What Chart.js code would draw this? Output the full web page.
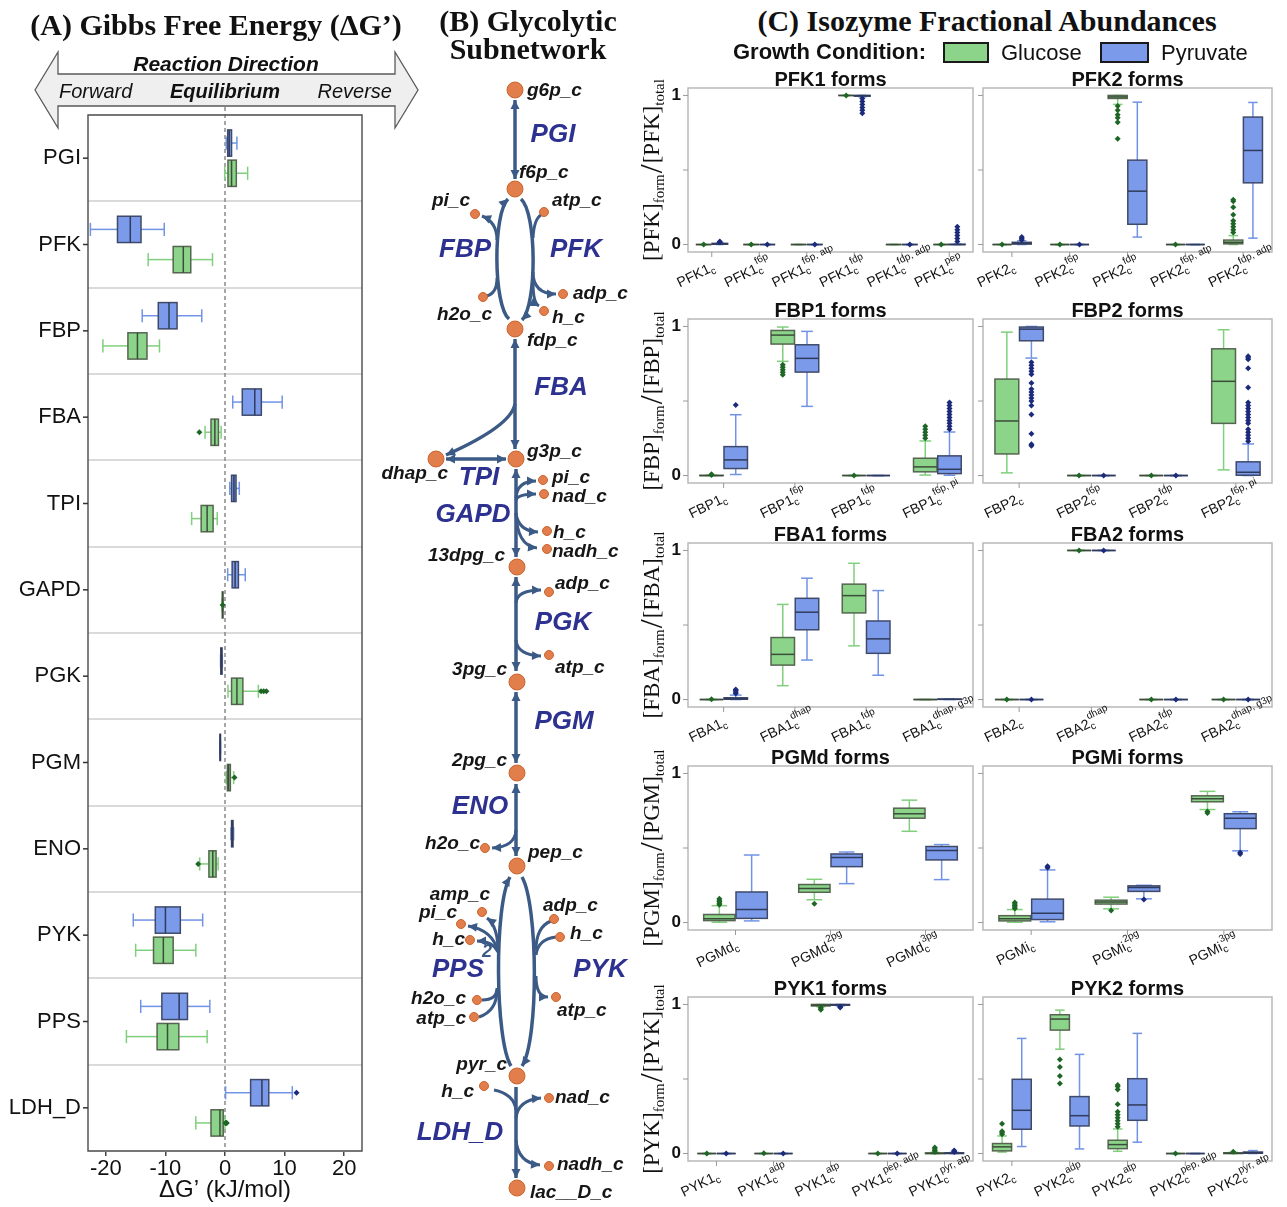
<!DOCTYPE html>
<html>
<head>
<meta charset="utf-8">
<title>Glycolysis: Gibbs free energy, subnetwork and isozyme abundances</title>
<script src="https://cdn.jsdelivr.net/npm/chart.js@4.4.1/dist/chart.umd.min.js"></script>
<style>
  html, body { margin:0; padding:0; background:#fff; }
  body { position:relative; width:1287px; height:1207px; overflow:hidden;
         font-family:"Liberation Sans", Arial, sans-serif; color:#111; }
  canvas { position:absolute; }
  .txt { position:absolute; white-space:nowrap; }
  .ylab { position:absolute; white-space:nowrap; font-family:"Liberation Serif","Times New Roman",serif;
          font-size:23px; line-height:23px; transform:translate(-50%,-50%) rotate(-90deg); color:#111; }
  .ylab sub { font-size:15px; vertical-align:-5px; }
  .ylab .sl { font-size:32px; vertical-align:-3px; padding:0 1px; }
  .swatch { position:absolute; box-sizing:border-box; border:2px solid #1a1a1a; }
  #dirArrow { position:absolute; left:0; top:0; }
</style>
</head>
<body>
<svg id="dirArrow" width="430" height="140">
  <polygon points="35,90 58,52 58,74 395,74 395,52 418,90 395,128 395,106 58,106 58,128"
           fill="#efefef" stroke="#5a5a5a" stroke-width="1.3"/>
</svg>
<script>
// ================= (A) Gibbs free energy of each reaction =================
const reactions = ['PGI','PFK','FBP','FBA','TPI','GAPD','PGK','PGM','ENO','PYK','PPS','LDH_D'];
// [min, q1, median, q3, max] in kJ/mol
const dgPyruvate = [
  [0.2, 0.45, 0.7, 1.1, 2.0],
  [-22.6, -18.05, -15.9, -14.1, -10.2],
  [-13.9, -11.2, -9.4, -8.05, -3.9],
  [1.3, 2.9, 5.0, 6.1, 9.6],
  [0.8, 1.1, 1.5, 1.85, 2.4],
  [0.45, 1.2, 1.7, 2.25, 3.4],
  [-0.75, -0.7, -0.6, -0.5, -0.45],
  [-0.85, -0.85, -0.8, -0.75, -0.75],
  [1.0, 1.1, 1.2, 1.35, 1.45],
  [-15.4, -11.7, -10.0, -7.5, -3.75],
  [-14.15, -10.6, -7.7, -6.3, -2.55],
  [0.1, 4.3, 6.2, 7.35, 11.3]
];
const dgGlucose = [
  [-0.05, 0.5, 1.1, 1.9, 3.8],
  [-12.9, -8.7, -7.0, -5.75, -2.1],
  [-20.5, -16.3, -14.7, -13.1, -11.0],
  [-3.35, -2.35, -1.7, -1.1, -0.65],
  [-5.6, -4.0, -3.0, -2.0, -1.3],
  [-0.5, -0.45, -0.4, -0.35, -0.3],
  [0.5, 1.1, 2.0, 3.0, 5.6],
  [0.2, 0.4, 0.6, 0.9, 1.45],
  [-4.25, -2.7, -2.05, -1.5, -1.15],
  [-15.0, -12.0, -10.35, -8.7, -4.9],
  [-16.55, -11.4, -9.65, -7.75, -3.0],
  [-4.9, -2.35, -0.85, -0.3, 0.0]
];
const dgPyruvateOut = [[],[],[],[],[],[],[],[],[],[],[],[12.0]];
const dgGlucoseOut  = [[],[],[],[-4.3],[],[-0.4],[6.05,6.5,6.95],[1.6],[-4.5],[],[],[0.1,0.2,0.3]];
const dgTicks = [-20, -10, 0, 10, 20];

// ================= (B) glycolytic subnetwork layout =================
const metNames = ['g6p_c','f6p_c','fdp_c','g3p_c','dhap_c','13dpg_c','3pg_c','2pg_c','pep_c','pyr_c','lac__D_c',
  'pi_c','atp_c','h2o_c','adp_c','h_c','pi_c','nad_c','h_c','nadh_c','adp_c','atp_c','h2o_c',
  'amp_c','pi_c','h_c','h2o_c','atp_c','adp_c','h_c','atp_c','h_c','nad_c','nadh_c'];
const metX = [515,515,515,516,436,517,517,517,517,517,517,
  475,544,483,563,544,543,544,547,547,549,549,485,
  482,461,470,477,474,554,560,556,484,549,549];
const metY = [90,189,329,459,459,567,682,773,866,1076,1188,
  214,212,297,294,311,480,494,531,549,592,655,848,
  912,924,940,1000,1017,919,937,997,1086,1098,1166];
const metMain = [1,1,1,1,1,1,1,1,1,1,1, 0,0,0,0,0,0,0,0,0,0,0,0, 0,0,0,0,0,0,0,0,0,0,0];
const metLabelX = [527,519,527,527,448,505,507,507,528,507,530,
  470,552,492,573,552,552,552,553,552,555,555,480,
  490,457,465,466,466,543,570,557,474,555,557];
const metLabelY = [91,173,341,452,474,556,670,761,853,1065,1193,
  201,201,315,294,318,478,497,533,552,584,668,844,
  895,913,940,999,1019,906,934,1011,1092,1098,1165];
const metLabelAlign = ['left','left','left','left','right','right','right','right','left','right','left',
  'right','left','right','left','left','left','left','left','left','left','left','right',
  'right','right','right','right','right','left','left','left','right','left','left'];
const rxnNames = ['PGI','FBP','PFK','FBA','TPI','GAPD','PGK','PGM','ENO','PPS','PYK','LDH_D'];
const rxnX = [553,465,576,561,479,473,563,564,480,458,600,460];
const rxnY = [135,250,250,388,478,515,623,722,807,970,970,1133];
// reaction arrows: p = path (2 pts line, 3 pts quadratic, 4 pts cubic), s/e = arrowheads
const rxnEdges = [
  {p:[[515,100],[515,179]], s:1, e:1, main:1},
  {p:[[521,199],[537,213],[537,305],[522,320]], e:1, main:1},
  {p:[[509,319],[493,305],[493,213],[508,199]], e:1, main:1},
  {p:[[541,215],[534,219],[533,238]]},
  {p:[[533,272],[533,294],[556,294]], e:1},
  {p:[[533,282],[533,303],[539,306]], e:1},
  {p:[[497,240],[497,222],[482,216]], e:1},
  {p:[[486,296],[497,294],[497,278]]},
  {p:[[515,339],[515,449]], s:1, e:1, main:1},
  {p:[[515,404],[511,426],[446,455]], e:1, main:1},
  {p:[[446,459],[506,459]], s:1, e:1, main:1},
  {p:[[516,469],[516,557]], s:1, e:1, main:1},
  {p:[[516,498],[517,481],[536,481]], e:1},
  {p:[[516,500],[518,494],[536,494]], e:1},
  {p:[[516,513],[518,531],[538,532]], e:1},
  {p:[[516,513],[517,546],[537,548]], e:1},
  {p:[[516,577],[516,671]], s:1, e:1, main:1},
  {p:[[516,603],[517,590],[541,590]], e:1},
  {p:[[516,640],[517,655],[541,656]], e:1},
  {p:[[516,692],[516,763]], s:1, e:1, main:1},
  {p:[[516,784],[516,856]], s:1, e:1, main:1},
  {p:[[516,830],[515,847],[492,848]], e:1},
  {p:[[522,877],[538,905],[539,1040],[522,1066]], e:1, main:1},
  {p:[[511,1066],[495,1040],[494,905],[510,877]], e:1, main:1},
  {p:[[551,921],[536,927],[536,950]]},
  {p:[[556,937],[538,939],[536,955]]},
  {p:[[536,976],[536,997],[548,997]], e:1},
  {p:[[498,952],[498,926],[487,918]], e:1},
  {p:[[498,952],[493,930],[468,926]], e:1},
  {p:[[498,952],[493,941],[477,941]], e:1},
  {p:[[482,1000],[497,1000],[497,988]]},
  {p:[[479,1017],[497,1011],[497,990]]},
  {p:[[516,1087],[516,1178]], e:1, main:1},
  {p:[[494,1090],[514,1094],[516,1110]]},
  {p:[[516,1118],[518,1100],[541,1098]], e:1},
  {p:[[516,1140],[518,1163],[540,1165]], e:1}
];

// ================= (C) isozyme fractional abundances =================
const Z = [0,0,0,0,0], ONE = [1,1,1,1,1];
const pfk1Sups = ['', 'f6p', 'f6p, atp', 'fdp', 'fdp, adp', 'pep'];
const pfk1Glucose = [Z, Z, Z, ONE, Z, Z];
const pfk1Pyruvate = [[0,0.002,0.004,0.008,0.012], Z, Z, [0.99,0.995,0.999,1,1], Z, [0,0,0,0.002,0.004]];
const pfk1GlucoseOut = [[0.001],[0.001],[],[0.999],[],[0.001]];
const pfk1PyruvateOut = [[0.015,0.02],[0.001],[0.001],[0.88,0.9,0.92,0.94,0.96,0.98],[0.001],[0.02,0.04,0.06,0.08,0.1,0.12]];

const pfk2Sups = ['', 'f6p', 'fdp', 'f6p, atp', 'fdp, adp'];
const pfk2Glucose = [Z, Z, [0.94,0.98,0.99,1,1], Z, [0,0.005,0.015,0.03,0.06]];
const pfk2Pyruvate = [[0,0.003,0.008,0.015,0.025], Z, [0.05,0.136,0.358,0.566,0.955], Z, [0.043,0.414,0.631,0.855,0.953]];
const pfk2GlucoseOut = [[0.001],[0.001],[0.93,0.9,0.87,0.85,0.82,0.71],[0.001],[0.08,0.1,0.12,0.14,0.16,0.2,0.25,0.29,0.3]];
const pfk2PyruvateOut = [[0.03,0.04,0.05],[0.001],[],[],[]];

const fbp1Sups = ['', 'f6p', 'fdp', 'f6p, pi'];
const fbp1Glucose = [[0,0,0,0.001,0.002], [0.766,0.882,0.942,0.973,0.996], Z, [0.003,0.025,0.058,0.116,0.232]];
const fbp1Pyruvate = [[0.007,0.047,0.105,0.194,0.408], [0.464,0.694,0.786,0.877,0.967], Z, [0.002,0.013,0.042,0.132,0.292]];
const fbp1GlucoseOut = [[0.004,0.008],[0.743,0.726,0.71,0.693,0.676],[0.001],[0.25,0.27,0.29,0.31,0.33]];
const fbp1PyruvateOut = [[0.473],[],[],[0.31,0.33,0.35,0.37,0.39,0.41,0.43,0.45,0.47,0.49]];

const fbp2Sups = ['', 'f6p', 'fdp', 'f6p, pi'];
const fbp2Glucose = [[0.018,0.145,0.366,0.647,0.962], Z, Z, [0.038,0.35,0.632,0.85,0.978]];
const fbp2Pyruvate = [[0.788,0.904,0.982,0.996,1], Z, Z, [0,0.002,0.022,0.092,0.212]];
const fbp2GlucoseOut = [[],[0.001],[0.001],[]];
const fbp2PyruvateOut = [[0.76,0.74,0.72,0.70,0.68,0.62,0.58,0.56,0.54,0.52,0.50,0.47,0.41,0.28,0.21,0.20],[0.001],[0.001],
  [0.23,0.25,0.27,0.29,0.31,0.35,0.37,0.39,0.41,0.43,0.45,0.47,0.49,0.59,0.72,0.78,0.79,0.80]];

const fba1Sups = ['', 'dhap', 'fdp', 'dhap, g3p'];
const fba1Glucose = [Z, [0.093,0.231,0.303,0.416,0.638], [0.36,0.581,0.697,0.774,0.914], Z];
const fba1Pyruvate = [[0,0.002,0.005,0.012,0.03], [0.265,0.468,0.586,0.679,0.814], [0.163,0.31,0.407,0.527,0.731], [0,0.001,0.002,0.003,0.004]];
const fba1GlucoseOut = [[0.002],[],[],[]];
const fba1PyruvateOut = [[0.04,0.05,0.06,0.068],[],[],[]];

const fba2Sups = ['', 'dhap', 'fdp', 'dhap, g3p'];
const fba2Glucose = [Z, ONE, Z, Z];
const fba2Pyruvate = [Z, ONE, Z, Z];
const fba2GlucoseOut = [[0.001],[0.999],[0.001],[0.001]];
const fba2PyruvateOut = [[0.001],[0.999],[0.001],[0.001]];

const pgmdSups = ['', '2pg', '3pg'];
const pgmdGlucose = [[0.002,0.013,0.026,0.054,0.113], [0.153,0.203,0.229,0.255,0.29], [0.612,0.70,0.73,0.767,0.821]];
const pgmdPyruvate = [[0.011,0.028,0.087,0.205,0.453], [0.261,0.375,0.436,0.46,0.473], [0.288,0.42,0.484,0.51,0.523]];
const pgmdGlucoseOut = [[0.12,0.13,0.14,0.15,0.16],[0.126],[]];
const pgmdPyruvateOut = [[],[],[]];

const pgmiSups = ['', '2pg', '3pg'];
const pgmiGlucose = [[0.002,0.011,0.025,0.046,0.087], [0.092,0.124,0.137,0.15,0.17], [0.758,0.81,0.83,0.85,0.88]];
const pgmiPyruvate = [[0.005,0.02,0.063,0.157,0.353], [0.159,0.209,0.235,0.246,0.25], [0.481,0.63,0.70,0.73,0.743]];
const pgmiGlucoseOut = [[0.095,0.105,0.115,0.125,0.135],[0.08],[0.745,0.735]];
const pgmiPyruvateOut = [[0.368,0.377],[0.155],[0.47,0.46]];

const pyk1Sups = ['', 'adp', 'atp', 'pep, adp', 'pyr, atp'];
const pyk1Glucose = [Z, Z, [0.985,0.99,0.995,1,1], Z, [0,0,0.001,0.004,0.008]];
const pyk1Pyruvate = [Z, Z, [0.99,0.995,0.998,1,1], Z, [0,0,0.002,0.005,0.008]];
const pyk1GlucoseOut = [[0.001],[0.002],[0.98,0.97,0.965],[0.001],[0.01,0.02,0.03,0.04]];
const pyk1PyruvateOut = [[0.001],[0.001],[0.985,0.98],[0.001],[0.01,0.015,0.02]];

const pyk2Sups = ['', 'adp', 'atp', 'pep, adp', 'pyr, atp'];
const pyk2Glucose = [[0.01,0.018,0.045,0.067,0.118], [0.70,0.828,0.902,0.931,0.962], [0.015,0.033,0.06,0.089,0.165], Z, [0,0,0.002,0.005,0.008]];
const pyk2Pyruvate = [[0.047,0.163,0.29,0.498,0.772], [0.031,0.185,0.254,0.382,0.665], [0.076,0.223,0.326,0.502,0.806], Z, [0,0.002,0.006,0.01,0.02]];
const pyk2GlucoseOut = [[0.13,0.14,0.15,0.2],[0.63,0.58,0.52,0.47],[0.18,0.2,0.22,0.24,0.26,0.28,0.33,0.43,0.45,0.46],[0.001],[0.012]];
const pyk2PyruvateOut = [[],[],[],[],[]];

const enzymeRows = ['PFK','FBP','FBA','PGM','PYK'];
const fractionTicks = [0, 0.5, 1];

// ================= styling =================
const SANS = '"Liberation Sans", Arial, sans-serif';
const SERIF = '"Liberation Serif", "Times New Roman", serif';
Chart.defaults.font.family = SANS;
const GREEN = {fill:'#8bd48a', border:'#55654f', whisker:'#80cf7c', median:'#3b4c3a', outlier:'#1e6626'};
const BLUE  = {fill:'#7b9bea', border:'#3f4a6b', whisker:'#7193e6', median:'#2f3a5c', outlier:'#1b2a7a'};
const EDGE = '#3b5a86';

function addText(html, x, y, o) {
  const d = document.createElement('div');
  d.className = 'txt';
  d.innerHTML = html;
  d.style.font = `${o.style||'normal'} ${o.weight||'normal'} ${o.size}px ${o.family||SANS}`;
  d.style.lineHeight = o.size + 'px';
  d.style.left = x + 'px';
  d.style.top = (y - o.size/2) + 'px';
  d.style.color = o.color || '#111';
  const tx = o.align === 'center' ? '-50%' : o.align === 'right' ? '-100%' : '0';
  d.style.transform = `translateX(${tx})`;
  document.body.appendChild(d);
  return d;
}
function makeCanvas(left, top, w, h) {
  const c = document.createElement('canvas');
  c.width = w; c.height = h;
  c.style.left = left + 'px'; c.style.top = top + 'px';
  c.style.width = w + 'px'; c.style.height = h + 'px';
  document.body.insertBefore(c, document.getElementById('dirArrow'));
  return c;
}
function diamond(ctx, x, y, r) {
  ctx.beginPath();
  ctx.moveTo(x, y - r); ctx.lineTo(x + r, y); ctx.lineTo(x, y + r); ctx.lineTo(x - r, y);
  ctx.closePath(); ctx.fill();
}

// whiskers, box outline, median and outliers drawn on top of the floating [q1, q3] bars
const boxPlotPlugin = {
  id: 'boxPlot',
  afterDatasetsDraw(chart) {
    const ctx = chart.ctx;
    const horiz = chart.options.indexAxis === 'y';
    const vs = horiz ? chart.scales.x : chart.scales.y;
    chart.data.datasets.forEach((ds, di) => {
      const meta = chart.getDatasetMeta(di);
      const st = ds.boxStyle;
      meta.data.forEach((el, i) => {
        const s = ds.stats[i];
        const c = horiz ? el.y : el.x;
        const w = horiz ? el.height : el.width;
        const h = w / 2;
        const P = s.map(v => vs.getPixelForValue(v));
        const seg = (a1, b1, a2, b2) => {
          ctx.beginPath();
          if (horiz) { ctx.moveTo(a1, b1); ctx.lineTo(a2, b2); }
          else { ctx.moveTo(b1, a1); ctx.lineTo(b2, a2); }
          ctx.stroke();
        };
        ctx.save();
        ctx.lineWidth = 1.5; ctx.strokeStyle = st.whisker;
        seg(P[0], c, P[1], c); seg(P[3], c, P[4], c);
        seg(P[0], c - h/2, P[0], c + h/2); seg(P[4], c - h/2, P[4], c + h/2);
        ctx.strokeStyle = st.border; ctx.lineWidth = 1.5;
        if (horiz) ctx.strokeRect(P[1], c - h, P[3] - P[1], w);
        else ctx.strokeRect(c - h, P[3], w, P[1] - P[3]);
        ctx.strokeStyle = st.median; ctx.lineWidth = 1.5;
        seg(P[2], c - h, P[2], c + h);
        ctx.fillStyle = st.outlier;
        (ds.outliers[i] || []).forEach(v => {
          const p = vs.getPixelForValue(v);
          diamond(ctx, horiz ? p : c, horiz ? c : p, 3);
        });
        ctx.restore();
      });
    });
  }
};
function boxDataset(label, stats, outliers, style, catPct, barPct) {
  return {
    label, stats, outliers, boxStyle: style,
    data: stats.map(s => [s[1], s[3]]),
    backgroundColor: style.fill, borderWidth: 0,
    categoryPercentage: catPct, barPercentage: barPct
  };
}

// ================= panel titles =================
addText('(A) Gibbs Free Energy (ΔG’)', 216, 25, {size:30, weight:'bold', family:SERIF, align:'center'});
addText('(B) Glycolytic', 528, 21, {size:30, weight:'bold', family:SERIF, align:'center'});
addText('Subnetwork', 528, 49, {size:30, weight:'bold', family:SERIF, align:'center'});
addText('(C) Isozyme Fractional Abundances', 987, 21, {size:30, weight:'bold', family:SERIF, align:'center'});

// ================= (A) chart =================
const cvA = makeCanvas(0, 0, 380, 1207);
const panelAPlugin = {
  id: 'panelA',
  beforeDatasetsDraw(chart) {
    const {ctx, chartArea:a, scales:{x:xs}} = chart;
    const x0 = xs.getPixelForValue(0);
    ctx.save();
    ctx.strokeStyle = '#8a8a8a'; ctx.lineWidth = 1.5; ctx.setLineDash([4, 3]);
    ctx.beginPath(); ctx.moveTo(x0, 100); ctx.lineTo(x0, a.bottom); ctx.stroke();
    ctx.restore();
  },
  afterDraw(chart) {
    const {ctx, chartArea:a, scales:{y:ys}} = chart;
    ctx.save();
    ctx.strokeStyle = '#555'; ctx.lineWidth = 1.5;
    ctx.strokeRect(a.left, a.top, a.right - a.left, a.bottom - a.top);
    ctx.strokeStyle = '#333';
    reactions.forEach((_, i) => {
      const y = ys.getPixelForValue(i);
      ctx.beginPath(); ctx.moveTo(a.left - 5, y); ctx.lineTo(a.left, y); ctx.stroke();
    });
    ctx.fillStyle = '#111'; ctx.font = `24px ${SANS}`;
    ctx.textAlign = 'center'; ctx.textBaseline = 'middle';
    ctx.fillText('ΔG’ (kJ/mol)', (a.left + a.right) / 2, a.bottom + 39);
    ctx.restore();
  }
};
new Chart(cvA, {
  type: 'bar',
  data: {
    labels: reactions,
    datasets: [
      boxDataset('Pyruvate', dgPyruvate, dgPyruvateOut, BLUE, 0.70, 0.87),
      boxDataset('Glucose', dgGlucose, dgGlucoseOut, GREEN, 0.70, 0.87)
    ]
  },
  options: {
    indexAxis: 'y', responsive: false, animation: false, devicePixelRatio: 1, events: [],
    layout: {padding: {top: 115, left: 0, right: 18, bottom: 0}, autoPadding: false},
    scales: {
      x: {
        min: -23, max: 23,
        afterBuildTicks: s => { s.ticks = dgTicks.map(v => ({value: v})); },
        ticks: {font: {size: 22}, color: '#111', padding: 0, maxRotation: 0, autoSkip: false},
        grid: {drawOnChartArea: false, drawTicks: true, tickLength: 5, color: '#444', lineWidth: 1.5},
        border: {display: false},
        afterFit: s => { s.height = 56; }
      },
      y: {
        ticks: {font: {size: 22}, color: '#111', padding: 7, autoSkip: false},
        grid: {offset: true, drawTicks: false, color: '#dadada', lineWidth: 2},
        border: {display: false},
        afterFit: s => { s.width = 88; }
      }
    },
    plugins: {legend: {display: false}, tooltip: {enabled: false}}
  },
  plugins: [panelAPlugin, boxPlotPlugin]
});

// reaction-direction banner text
addText('<i><b>Reaction Direction</b></i>', 226, 63, {size:21, align:'center'});
addText('<i>Forward</i>', 59, 91, {size:20});
addText('<i><b>Equilibrium</b></i>', 225, 91, {size:20, align:'center'});
addText('<i>Reverse</i>', 392, 91, {size:20, align:'right'});

// ================= (B) network chart =================
const cvB = makeCanvas(375, 60, 265, 1147);
function arrowHead(ctx, from, tip) {
  const ang = Math.atan2(tip[1] - from[1], tip[0] - from[0]);
  const L = 9, W = 4.5;
  ctx.beginPath();
  ctx.moveTo(tip[0], tip[1]);
  ctx.lineTo(tip[0] - L*Math.cos(ang) + W*Math.sin(ang), tip[1] - L*Math.sin(ang) - W*Math.cos(ang));
  ctx.lineTo(tip[0] - L*Math.cos(ang) - W*Math.sin(ang), tip[1] - L*Math.sin(ang) + W*Math.cos(ang));
  ctx.closePath(); ctx.fill();
}
const networkPlugin = {
  id: 'network',
  beforeDatasetsDraw(chart) {
    const {ctx, scales:{x:xs, y:ys}} = chart;
    ctx.save();
    ctx.strokeStyle = EDGE; ctx.fillStyle = EDGE; ctx.lineCap = 'butt';
    rxnEdges.forEach(e => {
      const p = e.p.map(q => [xs.getPixelForValue(q[0]), ys.getPixelForValue(q[1])]);
      ctx.lineWidth = e.main ? 3.5 : 3;
      ctx.beginPath(); ctx.moveTo(p[0][0], p[0][1]);
      if (p.length === 2) ctx.lineTo(p[1][0], p[1][1]);
      else if (p.length === 3) ctx.quadraticCurveTo(p[1][0], p[1][1], p[2][0], p[2][1]);
      else ctx.bezierCurveTo(p[1][0], p[1][1], p[2][0], p[2][1], p[3][0], p[3][1]);
      ctx.stroke();
      if (e.e) arrowHead(ctx, p[p.length - 2], p[p.length - 1]);
      if (e.s) arrowHead(ctx, p[1], p[0]);
    });
    ctx.restore();
  },
  afterDatasetsDraw(chart) {
    const {ctx, scales:{x:xs, y:ys}} = chart;
    ctx.save();
    ctx.textBaseline = 'middle';
    ctx.fillStyle = '#161616'; ctx.font = `italic bold 19px ${SANS}`;
    metNames.forEach((n, i) => {
      ctx.textAlign = metLabelAlign[i];
      ctx.fillText(n, xs.getPixelForValue(metLabelX[i]), ys.getPixelForValue(metLabelY[i]));
    });
    ctx.fillStyle = '#2d3190'; ctx.font = `italic bold 26px ${SANS}`; ctx.textAlign = 'center';
    rxnNames.forEach((n, i) => ctx.fillText(n, xs.getPixelForValue(rxnX[i]), ys.getPixelForValue(rxnY[i])));
    ctx.fillStyle = EDGE; ctx.font = `italic bold 18px ${SANS}`;
    ctx.fillText('2', xs.getPixelForValue(487), ys.getPixelForValue(952));
    ctx.restore();
  }
};
new Chart(cvB, {
  type: 'scatter',
  data: {datasets: [{
    data: metX.map((x, i) => ({x, y: metY[i]})),
    pointRadius: metMain.map(m => m ? 8 : 4.5),
    pointHoverRadius: metMain.map(m => m ? 8 : 4.5),
    pointBackgroundColor: '#e27d4c', pointBorderColor: '#c9652f', pointBorderWidth: 1,
    clip: false
  }]},
  options: {
    responsive: false, animation: false, devicePixelRatio: 1, events: [],
    layout: {padding: 0, autoPadding: false},
    scales: {
      x: {type: 'linear', display: false, min: 375, max: 640},
      y: {type: 'linear', display: false, min: 60, max: 1207, reverse: true}
    },
    plugins: {legend: {display: false}, tooltip: {enabled: false}}
  },
  plugins: [networkPlugin]
});

// ================= (C) legend =================
addText('Growth Condition:', 733, 52, {size:22, weight:'bold'});
(function () {
  const g = document.createElement('div'); g.className = 'swatch';
  Object.assign(g.style, {left:'943px', top:'42px', width:'46px', height:'21px', background:GREEN.fill});
  document.body.appendChild(g);
  const b = document.createElement('div'); b.className = 'swatch';
  Object.assign(b.style, {left:'1100px', top:'42px', width:'49px', height:'21px', background:BLUE.fill});
  document.body.appendChild(b);
})();
addText('Glucose', 1001, 53, {size:22});
addText('Pyruvate', 1161, 53, {size:22});

// ================= (C) small multiples =================
const colLeft = [688, 983], colWidth = [285, 289];
const rowTop = [88, 319, 543, 766, 997], rowHeight = 164;
const LABEL_ANGLE = 26 * Math.PI / 180;

function drawCatLabel(ctx, x, y, base, sup) {
  ctx.save();
  ctx.translate(x, y);
  ctx.rotate(-LABEL_ANGLE);
  ctx.fillStyle = '#111'; ctx.textBaseline = 'alphabetic'; ctx.textAlign = 'left';
  ctx.font = `14px ${SANS}`;
  const wb = ctx.measureText(base).width;
  ctx.font = `10px ${SANS}`;
  const ws = ctx.measureText('c').width;
  ctx.font = `14px ${SANS}`;
  ctx.fillText(base, -(wb + ws), 0);
  ctx.font = `10px ${SANS}`;
  ctx.fillText('c', -ws, 3);
  if (sup) ctx.fillText(sup, -ws + 1, -8);
  ctx.restore();
}

function isoformChart(sp, col, row) {
  const L = colLeft[col], T = rowTop[row], W = colWidth[col], H = rowHeight;
  const pad = {left: 50, top: 32, right: 12, bottom: 64};
  const cv = makeCanvas(L - pad.left, T - pad.top, W + pad.left + pad.right, H + pad.top + pad.bottom);
  const framePlugin = {
    id: 'isoFrame',
    afterDraw(chart) {
      const {ctx, chartArea:a, scales:{x:xs, y:ys}} = chart;
      ctx.save();
      ctx.strokeStyle = '#b9b9b9'; ctx.lineWidth = 1.5;
      ctx.strokeRect(a.left, a.top, a.right - a.left, a.bottom - a.top);
      ctx.strokeStyle = '#9a9a9a'; ctx.lineWidth = 1;
      fractionTicks.forEach(v => {
        const y = ys.getPixelForValue(v);
        ctx.beginPath(); ctx.moveTo(a.left - 5, y); ctx.lineTo(a.left, y); ctx.stroke();
      });
      if (col === 0) {
        ctx.fillStyle = '#111'; ctx.font = `bold 17px ${SANS}`;
        ctx.textAlign = 'right'; ctx.textBaseline = 'middle';
        ctx.fillText('1', a.left - 7, ys.getPixelForValue(1));
        ctx.fillText('0', a.left - 7, ys.getPixelForValue(0));
      }
      sp.sups.forEach((sup, i) => {
        const x = xs.getPixelForValue(i);
        ctx.strokeStyle = '#9a9a9a';
        ctx.beginPath(); ctx.moveTo(x, a.bottom); ctx.lineTo(x, a.bottom + 5); ctx.stroke();
        drawCatLabel(ctx, x + 4, a.bottom + 18, sp.base, sup);
      });
      ctx.fillStyle = '#111'; ctx.font = `bold 20px ${SANS}`;
      ctx.textAlign = 'center'; ctx.textBaseline = 'alphabetic';
      ctx.fillText(sp.title, (a.left + a.right) / 2, a.top - 2);
      ctx.restore();
    }
  };
  new Chart(cv, {
    type: 'bar',
    data: {
      labels: sp.sups.map(s => sp.base + 'c' + (s ? ' ' + s : '')),
      datasets: [
        boxDataset('Glucose', sp.glc, sp.glcOut, GREEN, 0.68, 0.97),
        boxDataset('Pyruvate', sp.pyr, sp.pyrOut, BLUE, 0.68, 0.97)
      ]
    },
    options: {
      responsive: false, animation: false, devicePixelRatio: 1, events: [],
      layout: {padding: pad, autoPadding: false},
      scales: {x: {display: false, offset: true}, y: {display: false, min: -0.05, max: 1.05}},
      plugins: {legend: {display: false}, tooltip: {enabled: false}}
    },
    plugins: [boxPlotPlugin, framePlugin]
  });
}

const isoPanels = [
  [{title:'PFK1 forms', base:'PFK1', sups:pfk1Sups, glc:pfk1Glucose, pyr:pfk1Pyruvate, glcOut:pfk1GlucoseOut, pyrOut:pfk1PyruvateOut},
   {title:'PFK2 forms', base:'PFK2', sups:pfk2Sups, glc:pfk2Glucose, pyr:pfk2Pyruvate, glcOut:pfk2GlucoseOut, pyrOut:pfk2PyruvateOut}],
  [{title:'FBP1 forms', base:'FBP1', sups:fbp1Sups, glc:fbp1Glucose, pyr:fbp1Pyruvate, glcOut:fbp1GlucoseOut, pyrOut:fbp1PyruvateOut},
   {title:'FBP2 forms', base:'FBP2', sups:fbp2Sups, glc:fbp2Glucose, pyr:fbp2Pyruvate, glcOut:fbp2GlucoseOut, pyrOut:fbp2PyruvateOut}],
  [{title:'FBA1 forms', base:'FBA1', sups:fba1Sups, glc:fba1Glucose, pyr:fba1Pyruvate, glcOut:fba1GlucoseOut, pyrOut:fba1PyruvateOut},
   {title:'FBA2 forms', base:'FBA2', sups:fba2Sups, glc:fba2Glucose, pyr:fba2Pyruvate, glcOut:fba2GlucoseOut, pyrOut:fba2PyruvateOut}],
  [{title:'PGMd forms', base:'PGMd', sups:pgmdSups, glc:pgmdGlucose, pyr:pgmdPyruvate, glcOut:pgmdGlucoseOut, pyrOut:pgmdPyruvateOut},
   {title:'PGMi forms', base:'PGMi', sups:pgmiSups, glc:pgmiGlucose, pyr:pgmiPyruvate, glcOut:pgmiGlucoseOut, pyrOut:pgmiPyruvateOut}],
  [{title:'PYK1 forms', base:'PYK1', sups:pyk1Sups, glc:pyk1Glucose, pyr:pyk1Pyruvate, glcOut:pyk1GlucoseOut, pyrOut:pyk1PyruvateOut},
   {title:'PYK2 forms', base:'PYK2', sups:pyk2Sups, glc:pyk2Glucose, pyr:pyk2Pyruvate, glcOut:pyk2GlucoseOut, pyrOut:pyk2PyruvateOut}]
];
isoPanels.forEach((row, r) => row.forEach((sp, c) => isoformChart(sp, c, r)));

// rotated y-axis titles
enzymeRows.forEach((e, r) => {
  const d = document.createElement('div');
  d.className = 'ylab';
  d.innerHTML = `[${e}]<sub>form</sub><span class="sl">/</span>[${e}]<sub>total</sub>`;
  d.style.left = '655px';
  d.style.top = (rowTop[r] + rowHeight / 2) + 'px';
  document.body.appendChild(d);
});
</script>
</body>
</html>
